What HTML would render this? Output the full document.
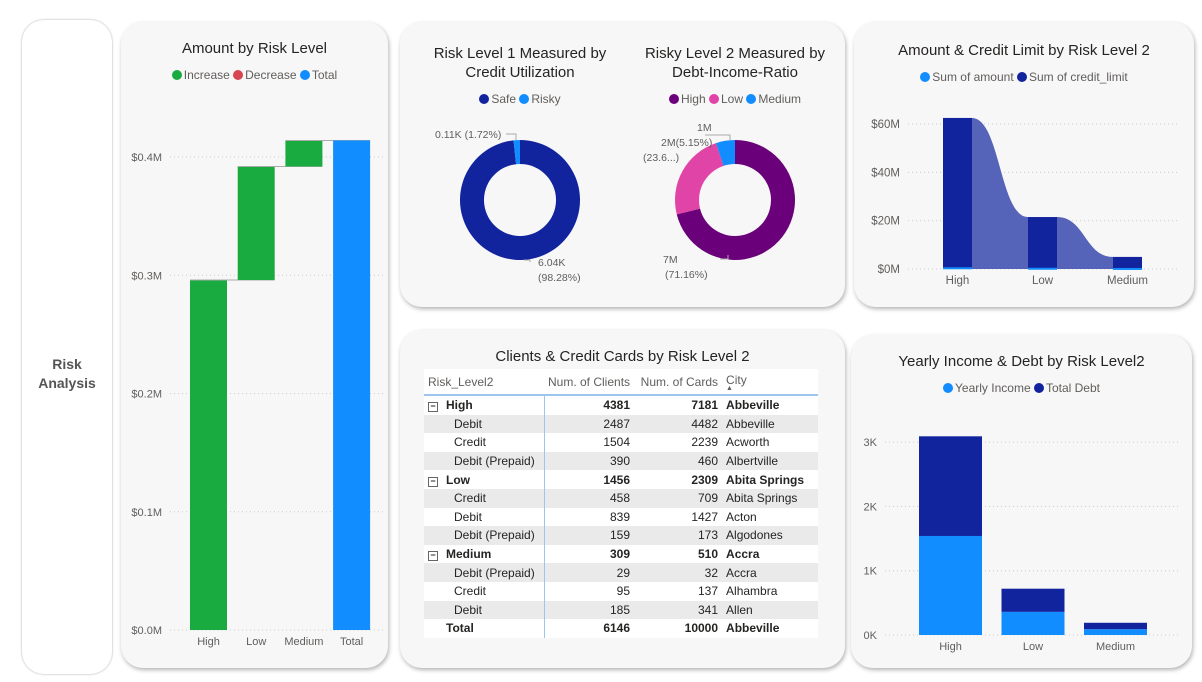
<!DOCTYPE html>
<html><head><meta charset="utf-8">
<style>
body{margin:0;width:1202px;height:682px;background:#fff;font-family:"Liberation Sans",sans-serif;position:relative;overflow:hidden}
.card{position:absolute;background:#f7f7f7;border-radius:22px;box-shadow:1px 2px 4px rgba(0,0,0,.3)}
.t{position:absolute;text-align:center;color:#252423;font-size:15px}
.lg{position:absolute;font-size:12px;color:#605e5c;text-align:center}
.dot{display:inline-block;width:10px;height:10px;border-radius:5px;margin-right:2px;vertical-align:-1px}
svg text{font-family:"Liberation Sans",sans-serif}
table{border-collapse:collapse;font-size:12px;color:#252423}
td{height:18.6px;padding:0 4px;white-space:nowrap}
</style></head><body>
<div class="card" style="left:22px;top:20px;width:90px;height:654px;background:#fff;box-shadow:0 0 2px rgba(0,0,0,.35)">
<div style="position:absolute;top:335px;width:100%;text-align:center;font-weight:bold;color:#555;font-size:14px;line-height:19px">Risk<br>Analysis</div></div>

<div class="card" style="left:121px;top:22px;width:267px;height:646px">
<div class="t" style="left:0;right:0;top:18px">Amount by Risk Level</div>
<div class="lg" style="left:0;right:0;top:46px"><span class="dot" style="background:#1aab40"></span>Increase <span class="dot" style="background:#d64550"></span>Decrease <span class="dot" style="background:#118dff"></span>Total</div>
</div>
<svg id="wf" style="position:absolute;left:0;top:0" width="400" height="682"></svg>

<div class="card" style="left:400px;top:22px;width:445px;height:285px">
<div class="t" style="left:20px;width:200px;top:22px;line-height:19px">Risk Level 1 Measured by Credit Utilization</div>
<div class="t" style="left:235px;width:200px;top:22px;line-height:19px">Risky Level 2 Measured by Debt-Income-Ratio</div>
<div class="lg" style="left:10px;width:220px;top:70px"><span class="dot" style="background:#12239e"></span>Safe <span class="dot" style="background:#118dff"></span>Risky</div>
<div class="lg" style="left:225px;width:220px;top:70px"><span class="dot" style="background:#6b007b"></span>High <span class="dot" style="background:#e044a7"></span>Low <span class="dot" style="background:#118dff"></span>Medium</div>
</div>
<svg id="dn" style="position:absolute;left:0;top:0" width="1202" height="682"></svg>

<div class="card" style="left:854px;top:22px;width:340px;height:285px">
<div class="t" style="left:0;right:0;top:20px">Amount &amp; Credit Limit by Risk Level 2</div>
<div class="lg" style="left:0;right:0;top:48px"><span class="dot" style="background:#118dff"></span>Sum of amount <span class="dot" style="background:#12239e"></span>Sum of credit_limit</div>
</div>
<svg id="rb" style="position:absolute;left:0;top:0" width="1202" height="682"></svg>

<div class="card" style="left:400px;top:330px;width:445px;height:338px">
<div class="t" style="left:0;right:0;top:18px">Clients &amp; Credit Cards by Risk Level 2</div>
<table style="position:absolute;left:24px;top:39px;width:394px;background:#fff">
<tr style="height:26px;color:#605e5c;border-bottom:2px solid #9ec5ee"><td style="width:112px">Risk_Level2</td><td style="text-align:right;width:82px">Num. of Clients</td><td style="text-align:right;width:80px">Num. of Cards</td><td>City<br><span style="font-size:7px;line-height:4px;display:block">▲</span></td></tr>
<tbody id="tb"></tbody></table>
</div>

<div class="card" style="left:851px;top:335px;width:341px;height:333px">
<div class="t" style="left:0;right:0;top:18px">Yearly Income &amp; Debt by Risk Level2</div>
<div class="lg" style="left:0;right:0;top:46px"><span class="dot" style="background:#118dff"></span>Yearly Income <span class="dot" style="background:#12239e"></span>Total Debt</div>
</div>
<svg id="sb" style="position:absolute;left:0;top:0" width="1202" height="682"></svg>

<script>
const NS='http://www.w3.org/2000/svg';
function mk(p,tag,a,txt){const e=document.createElementNS(NS,tag);for(const k in a)e.setAttribute(k,a[k]);if(txt!==undefined)e.textContent=txt;p.appendChild(e);return e;}

// Waterfall data
const wfCats=['High','Low','Medium','Total'];
const wfDeltas=[0.296,0.096,0.022];
const wfTicks=[0,0.1,0.2,0.3,0.4];
const wfTickLabels=['$0.0M','$0.1M','$0.2M','$0.3M','$0.4M'];
(function(){
const s=document.getElementById('wf');
const y=v=>630-v*1182.5, x=i=>190+i*47.7;
wfTicks.forEach((t,i)=>{
 const g=mk(s,'line',{x1:170,x2:385,y1:y(t),y2:y(t),stroke:'#ccc','stroke-dasharray':'1,3'});
 
 const l=mk(s,'text',{x:162,y:y(t)+4,'font-size':11,fill:'#605e5c','text-anchor':'end'},wfTickLabels[i]);
 
});
let cum=0;
wfDeltas.forEach((d,i)=>{
 const r=mk(s,'rect',{x:x(i),y:y(cum+d),width:37,height:y(cum)-y(cum+d),fill:'#1aab40'});
 
 cum+=d;
 const c=mk(s,'line',{x1:x(i),x2:x(i+1)+37,y1:y(cum),y2:y(cum),stroke:'#aaa'});
 
});
const t=mk(s,'rect',{x:x(3),y:y(cum),width:37,height:y(0)-y(cum),fill:'#118dff'});

wfCats.forEach((c,i)=>{const l=mk(s,'text',{x:x(i)+18.5,y:645,'font-size':11,fill:'#605e5c','text-anchor':'middle'},c);
 });
})();

// Donut data
const d1Labels=['Safe','Risky'];
const d1Values=[98.28,1.72];
const d2Labels=['High','Low','Medium'];
const d2Values=[71.16,23.69,5.15];
(function(){
const s=document.getElementById('dn');
function donut(cx,cy,vals,cols,name){
 const tot=vals.reduce((a,b)=>a+b,0);let a0=0;
 vals.forEach((v,i)=>{
  const a1=a0+v/tot*2*Math.PI,R=60,r=36,big=(a1-a0)>Math.PI?1:0;
  const p=(rad,a)=>[cx+rad*Math.sin(a),cy-rad*Math.cos(a)];
  const [x0,y0]=p(R,a0),[x1,y1]=p(R,a1),[x2,y2]=p(r,a1),[x3,y3]=p(r,a0);
  const e=mk(s,'path',{d:`M${x0},${y0}A${R},${R} 0 ${big} 1 ${x1},${y1}L${x2},${y2}A${r},${r} 0 ${big} 0 ${x3},${y3}Z`,fill:cols[i]});
  
  a0=a1;
 });
}
donut(520,200,d1Values,['#12239e','#118dff'],'donut1');
donut(735,200,d2Values,['#6b007b','#e044a7','#118dff'],'donut2');
const labs=[[435,138,'start','0.11K (1.72%)'],[538,266,'start','6.04K'],[538,281,'start','(98.28%)'],
[697,131,'start','1M'],[661,146,'start','2M(5.15%)'],[643,161,'start','(23.6...)'],[663,263,'start','7M'],[665,278,'start','(71.16%)']];
labs.forEach(l=>{const t=mk(s,'text',{x:l[0],y:l[1],'font-size':10.5,fill:'#605e5c','text-anchor':l[2]},l[3]);
 });
[[506,134,516,134,516,140],[524,260,530,260,530,262],[705,135,730,135,730,140],[720,259,728,259,728,255]].forEach(p=>{
 const e=mk(s,'polyline',{points:`${p[0]},${p[1]} ${p[2]},${p[3]} ${p[4]},${p[5]}`,fill:'none',stroke:'#aaa'});
 });
})();

// Ribbon data
const rbCats=['High','Low','Medium'];
const rbCredit=[62.5,21.5,5];
const rbAmount=[0.3,0.1,0.02];
const rbTicks=[0,20,40,60];
const rbTickLabels=['$0M','$20M','$40M','$60M'];
(function(){
const s=document.getElementById('rb');
const y=v=>269-v*2.417, x=i=>943+i*85, w=29;
rbTicks.forEach((t,i)=>{
 const g=mk(s,'line',{x1:908,x2:1180,y1:y(t),y2:y(t),stroke:'#ccc','stroke-dasharray':'1,3'});
 
 const l=mk(s,'text',{x:900,y:y(t)+4,'font-size':11.5,fill:'#605e5c','text-anchor':'end'},rbTickLabels[i]);
 
});
for(let i=0;i<rbCats.length-1;i++){
 const xa=x(i)+w,xb=x(i+1),m=(xa+xb)/2;
 const e=mk(s,'path',{d:`M${xa},${y(rbCredit[i])}C${m},${y(rbCredit[i])} ${m},${y(rbCredit[i+1])} ${xb},${y(rbCredit[i+1])}L${xb},${y(0)}L${xa},${y(0)}Z`,fill:'#5563b8'});
 
}
rbCats.forEach((c,i)=>{
 const r=mk(s,'rect',{x:x(i),y:y(rbCredit[i]),width:w,height:y(0)-y(rbCredit[i]),fill:'#12239e'});
 
 const a=mk(s,'rect',{x:x(i),y:y(rbAmount[i])-1,width:w,height:Math.max(1,y(0)-y(rbAmount[i]))+1,fill:'#118dff'});
 
 const l=mk(s,'text',{x:x(i)+w/2,y:284,'font-size':11.5,fill:'#605e5c','text-anchor':'middle'},c);
 
});
})();

// Stacked data
const sbCats=['High','Low','Medium'];
const sbIncome=[1.54,0.36,0.09];
const sbDebt=[1.55,0.36,0.10];
const sbTicks=[0,1,2,3];
const sbTickLabels=['0K','1K','2K','3K'];
(function(){
const s=document.getElementById('sb');
const y=v=>635-v*64.3, x=i=>919+i*82.5, w=63;
sbTicks.forEach((t,i)=>{
 const g=mk(s,'line',{x1:885,x2:1180,y1:y(t),y2:y(t),stroke:'#ccc','stroke-dasharray':'1,3'});
 
 const l=mk(s,'text',{x:877,y:y(t)+4,'font-size':11,fill:'#605e5c','text-anchor':'end'},sbTickLabels[i]);
 
});
sbCats.forEach((c,i)=>{
 const a=mk(s,'rect',{x:x(i),y:y(sbIncome[i]),width:w,height:y(0)-y(sbIncome[i]),fill:'#118dff'});
 
 const b=mk(s,'rect',{x:x(i),y:y(sbIncome[i]+sbDebt[i]),width:w,height:y(sbIncome[i])-y(sbIncome[i]+sbDebt[i]),fill:'#12239e'});
 
 const l=mk(s,'text',{x:x(i)+w/2,y:650,'font-size':11,fill:'#605e5c','text-anchor':'middle'},c);
 
});
})();

// Table
const rows=[['H','High',4381,7181,'Abbeville'],['Debit',2487,4482,'Abbeville'],['Credit',1504,2239,'Acworth'],['Debit (Prepaid)',390,460,'Albertville'],
['H','Low',1456,2309,'Abita Springs'],['Credit',458,709,'Abita Springs'],['Debit',839,1427,'Acton'],['Debit (Prepaid)',159,173,'Algodones'],
['H','Medium',309,510,'Accra'],['Debit (Prepaid)',29,32,'Accra'],['Credit',95,137,'Alhambra'],['Debit',185,341,'Allen'],['T','Total',6146,10000,'Abbeville']];
(function(){
const tb=document.getElementById('tb');let alt=0;
rows.forEach(r=>{
 const tr=document.createElement('tr');
 
 
 let h=r[0]==='H'||r[0]==='T';const d=h?r.slice(1):r;
 if(!h){alt++;if(alt%2==1)tr.style.background='#eaeaea';}else alt=0;
 const first=r[0]==='H'?'<span style="display:inline-block;width:8px;height:8px;border:1px solid #666;font-size:9px;line-height:7px;text-align:center;margin-right:8px">−</span>'+d[0]:(r[0]==='T'?'<span style="margin-left:18px">'+d[0]+'</span>':'<span style="margin-left:26px">'+d[0]+'</span>');
 tr.innerHTML=`<td style="border-right:1px solid #9ec5ee">${first}</td><td style="text-align:right">${d[1]}</td><td style="text-align:right">${d[2]}</td><td>${d[3]}</td>`;
 if(h)tr.style.fontWeight='bold';
 tb.appendChild(tr);
});
})();
</script>
</body></html>
